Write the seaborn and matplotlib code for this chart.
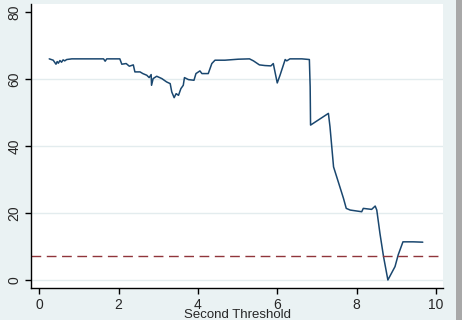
import matplotlib
matplotlib.use("Agg")
import matplotlib.pyplot as plt
import seaborn as sns
import pandas as pd
from matplotlib.patches import Rectangle

# Data
threshold = [0.25, 0.35, 0.42, 0.45, 0.48, 0.52, 0.56, 0.60, 0.64, 0.69, 0.82, 1.20, 1.62, 1.66,
             1.70, 2.03, 2.08, 2.19, 2.27, 2.37, 2.41, 2.54, 2.61, 2.71, 2.77, 2.82, 2.83,
             2.87, 2.96, 3.09, 3.21, 3.30, 3.34, 3.40, 3.45, 3.51, 3.57, 3.63, 3.66, 3.76,
             3.90, 3.95, 4.05, 4.10, 4.26, 4.35, 4.43, 4.68, 5.02, 5.30, 5.40, 5.55, 5.69,
             5.84, 5.90, 6.00, 6.07, 6.20, 6.24, 6.32, 6.62, 6.81, 6.83, 6.84, 7.29, 7.33,
             7.42, 7.54, 7.67, 7.74, 7.84, 8.13, 8.17, 8.38, 8.47, 8.51, 8.59, 8.68, 8.79,
             8.97, 9.05, 9.17, 9.43, 9.67]
lr_stat = [66.1, 65.7, 64.5, 65.3, 64.8, 65.6, 65.1, 65.8, 65.5, 65.9, 66.1, 66.1, 66.1, 65.4,
           66.1, 66.1, 64.5, 64.7, 63.9, 64.3, 62.2, 62.2, 61.7, 61.2, 60.5, 61.4, 58.2,
           60.2, 60.9, 60.2, 59.2, 58.7, 56.2, 54.5, 55.7, 55.2, 57.2, 58.2, 60.5, 59.9,
           59.7, 61.7, 62.5, 61.7, 61.7, 64.7, 65.7, 65.7, 66.0, 66.1, 65.5, 64.3, 64.1,
           64.0, 64.7, 58.9, 61.2, 65.9, 65.5, 66.1, 66.1, 65.9, 57.7, 46.3, 49.8, 45.8,
           33.8, 29.3, 24.4, 21.4, 20.9, 20.4, 21.4, 21.1, 22.1, 20.9, 13.9, 7.0, 0.0,
           4.0, 7.5, 11.4, 11.4, 11.3]
critical_value = 7.25
x_ticks = [0, 2, 4, 6, 8, 10]
y_ticks = [0, 20, 40, 60, 80]

df = pd.DataFrame({"Second Threshold": threshold, "LR Statistics": lr_stat})

sns.set_style("white")
plt.rcParams["font.family"] = ["Liberation Sans", "DejaVu Sans"]

bg = "#EAF2F3"
fig = plt.figure(figsize=(4.62, 3.2), dpi=100, facecolor=bg)
ax = fig.add_axes([31 / 462, 32 / 320, 412 / 462, 284 / 320])
ax.set_facecolor("white")

for yv in y_ticks[:-1]:
    ax.axhline(yv, color="#E3ECEE", lw=1.0, zorder=0)

sns.lineplot(data=df, x="Second Threshold", y="LR Statistics", ax=ax,
             color="#1A476F", lw=1.1, estimator=None, sort=False)
ax.axhline(critical_value, color="#90353B", lw=1.0, ls=(0, (7, 4)))

ax.set_xlim(-0.21, 10.18)
ax.set_ylim(-2.4, 82.5)
ax.set_xticks(x_ticks)
ax.set_yticks(y_ticks)
ax.set_yticklabels([str(v) for v in y_ticks], rotation=90, va="center")
ax.tick_params(axis="both", direction="out", length=4, width=1, color="black",
               labelsize=10, pad=3, left=True, bottom=True)
for s in ["top", "right"]:
    ax.spines[s].set_visible(False)
for s in ["left", "bottom"]:
    ax.spines[s].set_color("black")
    ax.spines[s].set_linewidth(1.0)

ax.set_xlabel("Second Threshold", fontsize=9.5, labelpad=-2)
ax.set_ylabel("LR Statistics", fontsize=9.5, labelpad=3)

fig.patches.append(Rectangle((456 / 462, 0), 6 / 462, 1, transform=fig.transFigure,
                             facecolor="#A8A8A8", edgecolor="none"))

fig.savefig("out.png", dpi=100, facecolor=bg)
